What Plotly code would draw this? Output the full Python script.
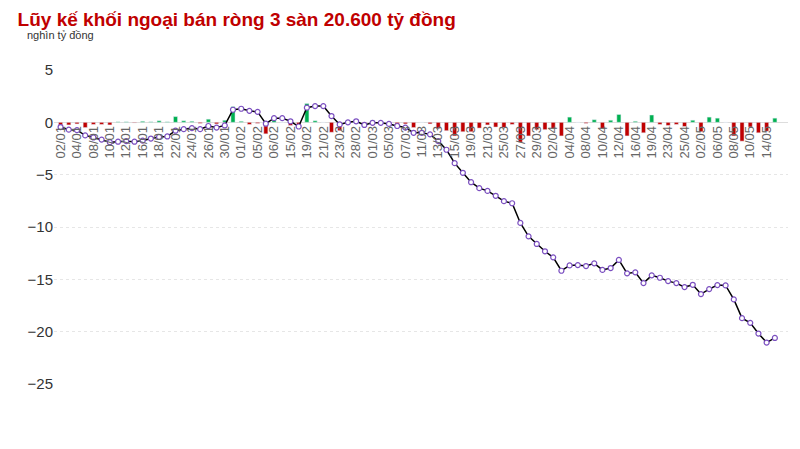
import plotly.graph_objects as go

tick_labels = ["02/01", "04/01", "08/01", "10/01", "12/01", "16/01", "18/01", "22/01", "24/01", "26/01",
               "30/01", "01/02", "05/02", "06/02", "15/02", "19/02", "21/02", "23/02", "28/02", "01/03",
               "05/03", "07/03", "11/03", "13/03", "15/03", "19/03", "21/03", "25/03", "27/03", "29/03",
               "02/04", "04/04", "08/04", "10/04", "12/04", "16/04", "19/04", "23/04", "25/04", "02/05",
               "06/05", "08/05", "10/05", "14/05"]

# cumulative net selling, thousand billion VND
cumulative = [-0.45, -0.7, -0.75, -1.25, -1.45, -1.65, -1.9, -1.85, -1.8, -1.85,
              -1.75, -1.55, -1.4, -1.35, -0.8, -0.65, -0.55, -0.65, -0.35, -0.5,
              -0.3, 1.2, 1.3, 1.1, 1.0, -0.13, 0.4, 0.4, 0.1, -0.4,
              1.4, 1.55, 1.55, 0.6, -0.2, 0.0, 0.1, -0.25, -0.05, -0.05,
              -0.15, -0.35, -0.5, -1.0, -1.0, -1.15, -1.79, -2.62, -3.9, -4.82,
              -5.72, -6.29, -6.55, -7.02, -7.53, -7.73, -9.61, -10.89, -11.62, -12.32,
              -12.9, -14.18, -13.67, -13.64, -13.73, -13.47, -14.1, -13.92, -13.15, -14.43,
              -14.33, -15.36, -14.62, -14.85, -15.17, -15.36, -15.74, -15.52, -16.41, -15.93,
              -15.55, -15.58, -16.92, -18.71, -19.16, -20.18, -21.04, -20.6]

daily = [-0.3, -0.25, -0.15, -0.5, -0.2, -0.2, -0.25, 0.05, 0.05, -0.05,
         0.1, 0.05, 0.15, 0.05, 0.55, 0.15, 0.1, -0.1, 0.3, -0.15,
         0.2, 1.5, 0.1, -0.2, -0.1, -1.1, 0.5, 0.0, -0.3, -0.5,
         1.8, 0.15, 0.0, -0.95, -0.8, 0.2, 0.1, -0.35, 0.2, 0.0,
         -0.1, -0.2, -0.15, -0.5, 0.0, -0.15, -0.6, -0.8, -1.3, -0.9,
         -0.9, -0.55, -0.25, -0.45, -0.5, -0.2, -1.9, -1.3, -0.7, -0.7,
         -0.6, -1.3, 0.5, 0.0, -0.1, 0.25, -0.6, 0.2, 0.75, -1.3,
         0.1, -1.0, 0.7, -0.2, -0.3, -0.2, -0.4, 0.2, -0.9, 0.5,
         0.4, 0.0, -1.3, -1.8, -0.45, -1.0, -0.85, 0.4]

x = list(range(len(cumulative)))
bar_colors = ["#00b050" if v >= 0 else "#c00000" for v in daily]

fig = go.Figure()
fig.add_trace(go.Bar(x=x, y=daily, marker_color=bar_colors, width=0.5, showlegend=False))
fig.add_trace(go.Scatter(
    x=x, y=cumulative, mode="lines+markers", showlegend=False,
    line=dict(color="black", width=1.5),
    marker=dict(symbol="circle", size=5, color="white", line=dict(color="#7b4fc0", width=1.2)),
))

fig.update_layout(
    width=800, height=449,
    paper_bgcolor="white", plot_bgcolor="white",
    margin=dict(l=46, r=20, t=62, b=73),
    font=dict(family="Liberation Sans, Arial", color="#333"),
    title=dict(text="<b>Lũy kế khối ngoại bán ròng 3 sàn 20.600 tỷ đồng</b>",
               x=0.012, y=0.99, xanchor="left", yanchor="top",
               font=dict(size=19, color="#c00000")),
    annotations=[dict(text="nghìn tỷ đồng", xref="paper", yref="paper", x=-0.04, y=1.085,
                      xanchor="left", yanchor="bottom", showarrow=False,
                      font=dict(size=11, color="#333"))],
    xaxis=dict(tickmode="array", tickvals=x[::2], ticktext=tick_labels,
               tickangle=-90, tickfont=dict(size=13, color="#666"),
               anchor="free", position=25 / 30, showgrid=False, showline=False,
               range=[-0.8, len(x) + 0.6]),
    yaxis=dict(range=[-25, 5], tickvals=[5, 0, -5, -10, -15, -20, -25],
               tickfont=dict(size=15, color="#333"), gridcolor="#e6e6e6",
               griddash="dot", zeroline=True, zerolinecolor="#dddddd", zerolinewidth=1),
    bargap=0.3,
)

fig.write_html("out.html")
